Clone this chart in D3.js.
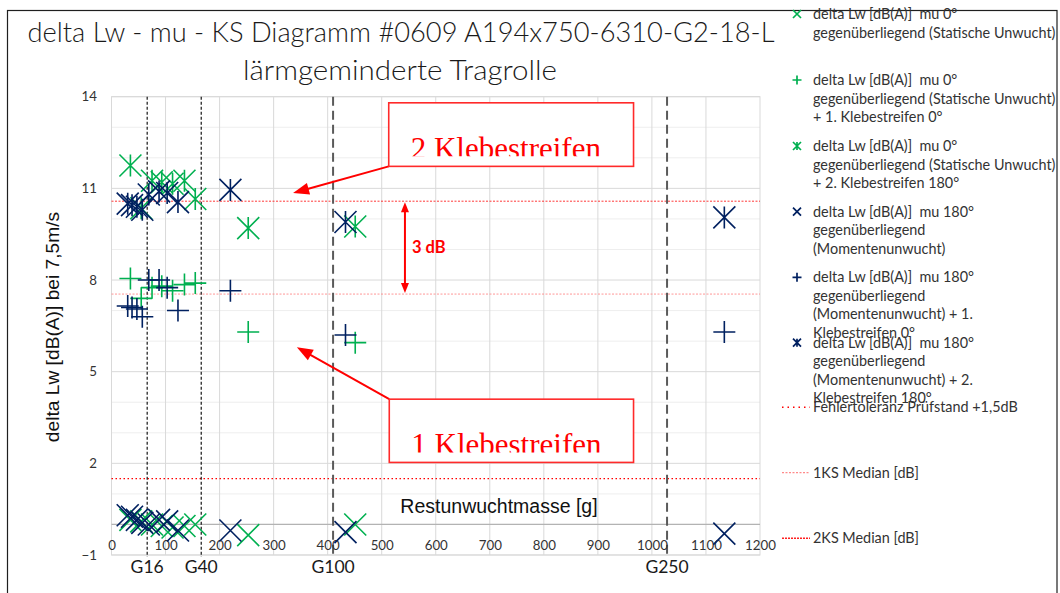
<!DOCTYPE html>
<html><head><meta charset="utf-8">
<script src="https://cdn.jsdelivr.net/npm/d3@7"></script>
<style>body{margin:0;background:#fff;} svg{display:block;} text{white-space:pre;}</style>
</head><body>
<svg id="c" width="1060" height="593"></svg>
<script>
// ---------- data ----------
const titleLines = ["delta Lw - mu - KS Diagramm #0609 A194x750-6310-G2-18-L", "lärmgeminderte Tragrolle"];
const xTicks = [0,100,200,300,400,500,600,700,800,900,1000,1100,1200];
const yTicks = [-1,2,5,8,11,14];
const xTitle = "Restunwuchtmasse [g]";
const yTitle = "delta Lw [dB(A)] bei 7,5m/s";

// mu 0° gegenüberliegend (Statische Unwucht) – green
const greenMass = [35, 55, 75, 93, 113, 135, 155, 253, 451];
const greenBase = [0.15, 0.1, 0.0, -0.05, -0.1, -0.05, 0.0, -0.35, 0.0];
const greenOne  = [8.05, 7.4, 7.75, 7.8, 7.65, 7.85, 7.9, 6.3, 5.95];
const greenTwo  = [11.75, 10.35, 11.25, 11.2, 11.15, 11.25, 10.65, 9.7, 9.75];

// mu 180° gegenüberliegend (Momentenunwucht) – navy
const navyMass = [30, 38, 47, 57, 69, 88, 103, 123, 220, 433, 1134];
const navyBase = [0.3, 0.25, 0.15, 0.05, 0.0, 0.15, 0.1, -0.2, -0.2, -0.25, -0.3];
const navyOne  = [7.15, 7.1, 7.05, 6.8, 8.0, 8.0, 7.75, 7.0, 7.65, 6.2, 6.3];
const navyTwo  = [10.5, 10.45, 10.4, 10.3, 10.8, 10.9, 10.85, 10.55, 10.95, 9.9, 10.05];

const gLabels = ["G16", "G40", "G100", "G250"];
const gMass = [66, 166, 410, 1028];

const refLabels = ["Fehlertoleranz Prüfstand +1,5dB", "1KS Median [dB]", "2KS Median [dB]"];
const refValues = [1.5, 7.54, 10.58];

const seriesLegend = [
  ["delta Lw [dB(A)]  mu 0°", "gegenüberliegend (Statische Unwucht)"],
  ["delta Lw [dB(A)]  mu 0°", "gegenüberliegend (Statische Unwucht)", "+ 1. Klebestreifen 0°"],
  ["delta Lw [dB(A)]  mu 0°", "gegenüberliegend (Statische Unwucht)", "+ 2. Klebestreifen 180°"],
  ["delta Lw [dB(A)]  mu 180°", "gegenüberliegend", "(Momentenunwucht)"],
  ["delta Lw [dB(A)]  mu 180°", "gegenüberliegend", "(Momentenunwucht) + 1.", "Klebestreifen 0°"],
  ["delta Lw [dB(A)]  mu 180°", "gegenüberliegend", "(Momentenunwucht) + 2.", "Klebestreifen 180°"]
];
const annoLabels = ["2 Klebestreifen", "1 Klebestreifen", "3 dB"];

// ---------- styles ----------
const GREEN = "#00B050", NAVY = "#002060", RED = "#ff0000";
const series = [
  {mass: greenMass, vals: greenBase, color: GREEN, shape: "x"},
  {mass: greenMass, vals: greenOne,  color: GREEN, shape: "plus"},
  {mass: greenMass, vals: greenTwo,  color: GREEN, shape: "star"},
  {mass: navyMass,  vals: navyBase,  color: NAVY,  shape: "x"},
  {mass: navyMass,  vals: navyOne,   color: NAVY,  shape: "plus"},
  {mass: navyMass,  vals: navyTwo,   color: NAVY,  shape: "star"}
];
const refStyles = [
  {color: "#ff0000", width: 1.4, dash: "1.5,2.5"},
  {color: "#ff8a8a", width: 0.9, dash: "2,1.5"},
  {color: "#ff2020", width: 0.9, dash: "2,1.5"}
];
const gStyles = [
  {color: "#000", width: 1.1, dash: "3,2"},
  {color: "#000", width: 1.1, dash: "3,2"},
  {color: "#5a5a5a", width: 2, dash: "9,5"},
  {color: "#5a5a5a", width: 2, dash: "9,5"}
];

function markerPath(shape, s) {
  const xp = `M${-s},${-s}L${s},${s}M${-s},${s}L${s},${-s}`;
  if (shape === "x") return xp;
  if (shape === "plus") return `M${-s},0L${s},0M0,${-s}L0,${s}`;
  return xp + `M0,${-s}L0,${s}`;
}

// ---------- chart ----------
const svg = d3.select("#c");
const x = d3.scaleLinear().domain([0, 1200]).range([111.5, 760]);
const y = d3.scaleLinear().domain([-1, 14]).range([555, 96.7]);
const FONT = "Lato, 'Open Sans', sans-serif";

svg.append("rect").attr("width", 1060).attr("height", 593).attr("fill", "#fff");
svg.append("rect").attr("x", 7.5).attr("y", 10.5).attr("width", 1049.5).attr("height", 620)
  .attr("fill", "none").attr("stroke", "#1f1f1f").attr("stroke-width", 1.2);

const grid = svg.append("g");
d3.range(-1, 15).forEach(v => {
  grid.append("line").attr("x1", x(0)).attr("x2", x(1200)).attr("y1", y(v)).attr("y2", y(v))
    .attr("stroke", (v + 1) % 3 === 0 ? "#d9d9d9" : "#eeeeee").attr("stroke-width", 1);
});
d3.range(100, 1200, 100).forEach(v => {
  grid.append("line").attr("x1", x(v)).attr("x2", x(v)).attr("y1", y(14)).attr("y2", y(-1))
    .attr("stroke", "#d9d9d9").attr("stroke-width", 1);
});
svg.append("rect").attr("x", x(0)).attr("y", y(14)).attr("width", x(1200) - x(0)).attr("height", y(-1) - y(14))
  .attr("fill", "none").attr("stroke", "#d9d9d9");
svg.append("line").attr("x1", x(0)).attr("x2", x(1200)).attr("y1", y(0)).attr("y2", y(0))
  .attr("stroke", "#b3b3b3").attr("stroke-width", 1.2);

// x-axis title (inside plot)
svg.append("text").attr("x", 499).attr("y", y(0) - 11).attr("text-anchor", "middle")
  .attr("font-family", "'Liberation Sans', Arial, sans-serif").attr("font-size", 19.5).attr("fill", "#111")
  .text(xTitle);

// reference lines
refValues.forEach((v, i) => {
  svg.append("line").attr("x1", x(0)).attr("x2", x(1200)).attr("y1", y(v)).attr("y2", y(v))
    .attr("stroke", refStyles[i].color).attr("stroke-width", refStyles[i].width)
    .attr("stroke-dasharray", refStyles[i].dash);
});

// G lines
gMass.forEach((m, i) => {
  svg.append("line").attr("x1", x(m)).attr("x2", x(m)).attr("y1", y(14)).attr("y2", y(-1) + 2)
    .attr("stroke", gStyles[i].color).attr("stroke-width", gStyles[i].width)
    .attr("stroke-dasharray", gStyles[i].dash);
  svg.append("text").attr("x", x(m)).attr("y", 573).attr("text-anchor", "middle")
    .attr("font-family", FONT).attr("font-size", 17.5).attr("fill", "#1a1a1a").text(gLabels[i]);
});

// axes
const xAxis = d3.axisBottom(x).tickValues(xTicks).tickSize(0).tickPadding(16).tickFormat(d3.format("d"));
svg.append("g").attr("transform", `translate(0,${y(0)})`).call(xAxis)
  .attr("font-family", FONT).attr("font-size", 13.3)
  .call(g => g.select(".domain").remove())
  .selectAll("text").attr("fill", "#333");
const yAxis = d3.axisLeft(y).tickValues(yTicks).tickSize(0).tickPadding(14.5);
svg.append("g").attr("transform", `translate(${x(0)},0)`).call(yAxis)
  .attr("font-family", FONT).attr("font-size", 13.3)
  .call(g => g.select(".domain").remove())
  .selectAll("text").attr("fill", "#333");

svg.append("text").attr("transform", `translate(59,327) rotate(-90)`).attr("text-anchor", "middle")
  .attr("font-family", "'Liberation Sans', Arial, sans-serif").attr("font-size", 19.2).attr("fill", "#111")
  .text(yTitle);

// markers
series.forEach(s => {
  svg.append("g").selectAll("path").data(s.mass.map((m, i) => [m, s.vals[i]])).join("path")
    .attr("transform", d => `translate(${x(d[0])},${y(d[1])})`)
    .attr("d", markerPath(s.shape, 11))
    .attr("fill", "none").attr("stroke", s.color).attr("stroke-width", 1.6);
});

// ---------- annotations ----------
function arrowHead(g, x1, y1, x2, y2, len, w) {
  const a = Math.atan2(y2 - y1, x2 - x1);
  const bx = x2 - len * Math.cos(a), by = y2 - len * Math.sin(a);
  const px = -Math.sin(a) * w / 2, py = Math.cos(a) * w / 2;
  g.append("path").attr("d", `M${x2},${y2}L${bx + px},${by + py}L${bx - px},${by - py}Z`).attr("fill", RED);
}
function arrow(g, x1, y1, x2, y2, len, w, both) {
  const a = Math.atan2(y2 - y1, x2 - x1);
  const sx = both ? x1 + (len - 2) * Math.cos(a) : x1, sy = both ? y1 + (len - 2) * Math.sin(a) : y1;
  g.append("line").attr("x1", sx).attr("y1", sy)
    .attr("x2", x2 - (len - 2) * Math.cos(a)).attr("y2", y2 - (len - 2) * Math.sin(a))
    .attr("stroke", RED).attr("stroke-width", 2);
  arrowHead(g, x1, y1, x2, y2, len, w);
  if (both) arrowHead(g, x2, y2, x1, y1, len, w);
}
const ann = svg.append("g");
const defs = svg.append("defs");
const boxes = [
  {x0: 513, x1: 966, yTop: 13.8, yBot: 11.72, label: annoLabels[0], tip: [336, 10.85], corner: "bottom"},
  {x0: 514, x1: 966, yTop: 4.1, yBot: 2.03, label: annoLabels[1], tip: [343, 5.8], corner: "top"}
];
boxes.forEach((b, i) => {
  const bx = x(b.x0), by = y(b.yTop), bw = x(b.x1) - x(b.x0), bh = y(b.yBot) - y(b.yTop);
  const cx = bx, cy = b.corner === "bottom" ? by + bh : by;
  arrow(ann, cx, cy, x(b.tip[0]), y(b.tip[1]), 16, 12, false);
  ann.append("rect").attr("x", bx).attr("y", by).attr("width", bw).attr("height", bh)
    .attr("fill", "#fff").attr("stroke", "#ff2a2a").attr("stroke-width", 1.6);
  defs.append("clipPath").attr("id", "clip" + i).append("rect")
    .attr("x", bx).attr("y", by).attr("width", bw).attr("height", bh - 10);
  ann.append("text").attr("x", bx + 22).attr("y", by + 56).attr("clip-path", `url(#clip${i})`)
    .attr("font-family", "'Liberation Serif', 'Times New Roman', serif").attr("font-size", 31)
    .attr("fill", RED).text(b.label);
});
// 3 dB double arrow between the median lines
const arrX = x(543);
arrow(ann, arrX, y(refValues[2]) + 1, arrX, y(refValues[1]) - 1, 10, 8, true);
ann.append("text").attr("x", arrX + 7).attr("y", (y(refValues[2]) + y(refValues[1])) / 2).attr("dy", "0.35em")
  .attr("font-family", "Lato, sans-serif").attr("font-weight", "bold").attr("font-size", 16.5)
  .attr("fill", RED).text(annoLabels[2]);

// ---------- legend ----------
const leg = svg.append("g").attr("font-family", FONT).attr("font-size", 14.4).attr("fill", "#333");
const legTops = [14, 80, 146, 211.7, 277.3, 342.7];
const LH = 18.5;
seriesLegend.forEach((lines, i) => {
  const s = series[i];
  leg.append("path").attr("transform", `translate(797,${legTops[i]})`)
    .attr("d", markerPath(s.shape, s.shape === "plus" ? 4.5 : 4))
    .attr("fill", "none").attr("stroke", s.color).attr("stroke-width", 1.7);
  lines.forEach((t, j) => {
    leg.append("text").attr("x", 813).attr("y", legTops[i] + j * LH).attr("dy", "0.35em").text(t);
  });
});
const refLegY = [407.3, 472.7, 538.3];
const refLegDash = ["1.5,4", "2,1.5", "2,1"];
refLabels.forEach((t, i) => {
  leg.append("line").attr("x1", 782).attr("x2", 810).attr("y1", refLegY[i]).attr("y2", refLegY[i])
    .attr("stroke", refStyles[i].color).attr("stroke-width", i === 1 ? 1.2 : 1.6)
    .attr("stroke-dasharray", refLegDash[i]);
  leg.append("text").attr("x", 813).attr("y", refLegY[i]).attr("dy", "0.35em").text(t);
});

// ---------- title ----------
svg.append("text").attr("x", 401).attr("y", 42).attr("text-anchor", "middle")
  .attr("font-family", FONT).attr("font-weight", 300).attr("font-size", 26.7).attr("fill", "#1a1a1a")
  .attr("textLength", 747).attr("lengthAdjust", "spacingAndGlyphs").text(titleLines[0]);
svg.append("text").attr("x", 400).attr("y", 80).attr("text-anchor", "middle")
  .attr("font-family", FONT).attr("font-weight", 300).attr("font-size", 26.7).attr("fill", "#1a1a1a")
  .attr("textLength", 314).attr("lengthAdjust", "spacingAndGlyphs").text(titleLines[1]);
</script>
</body></html>
